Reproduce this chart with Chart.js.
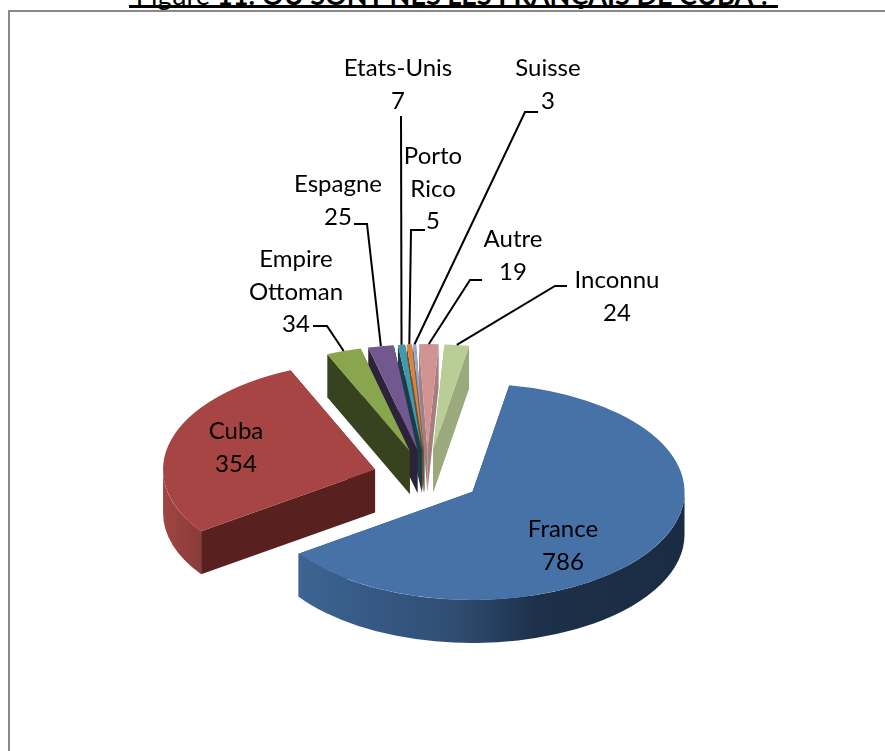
<!DOCTYPE html>
<html>
<head>
<meta charset="utf-8">
<title>Figure 11</title>
<script src="https://cdn.jsdelivr.net/npm/chart.js@4/dist/chart.umd.min.js"></script>
<style>
  html, body { margin: 0; height: 100%; background: #fff; overflow: hidden; }
  #frame { position: absolute; left: 8px; top: 10px; width: 900px; height: 800px; border: 2px solid #888; }
  #title { position: absolute; left: 129px; top: -24px; width: 649px; height: 29px; border-bottom: 3px solid #000;
           font: 27px/37px Lato, sans-serif; color: #000; white-space: nowrap; text-align: center; }
  #pie { position: absolute; left: 0; top: 0; }
</style>
</head>
<body>
<div id="frame"></div>
<div id="title">Figure <b>11: OU SONT NES LES FRANÇAIS DE CUBA ?</b></div>
<canvas id="pie" width="885" height="751"></canvas>
<script>
const categories = ['France', 'Cuba', 'Empire Ottoman', 'Espagne', 'Etats-Unis', 'Porto Rico', 'Suisse', 'Autre', 'Inconnu'];
const values = [786, 354, 34, 25, 7, 5, 3, 19, 24];

const colors = ['#4672A7', '#A64543', '#89A54E', '#71588F', '#4198AF', '#DB843D', '#93A9CF', '#D19392', '#B9CD96'];
const wallColors = ['#2A4566', '#58211F', '#37421F', '#2D2339', '#1A3D46', '#7A4A22', '#586580', '#A47E7D', '#9AAA7C'];

// label text wrapped as in the picture, first line position, elbow of the leader line
const labelLines = [['France'], ['Cuba'], ['Empire', 'Ottoman'], ['Espagne'], ['Etats-Unis'], ['Porto', 'Rico'], ['Suisse'], ['Autre'], ['Inconnu']];
const labelPos = [[563, 529], [236, 431], [296, 259], [338, 184], [398, 68], [433, 156], [548, 68], [513, 239], [617, 280]];
const leaders = [null, null, [[313, 326], [327, 326]], [[354, 224], [367, 224]], [[401, 116]], [[425, 230], [411, 230]], [[538, 112], [525, 112]], [[482, 280], [470, 280]], [[567, 286], [555, 286]]];

const squash = 0.51;
const depth = 43;
const explode = 54;
const lineHeight = 32.8;
// back slices first, so the front ones cover their walls
const paintOrder = [6, 5, 7, 4, 3, 8, 2, 1, 0];

function rimGradient(ctx, i) {
  if (i === 0) {
    const g = ctx.createLinearGradient(297, 0, 685, 0);
    g.addColorStop(0, '#3D6493');
    g.addColorStop(0.4, '#2F4E73');
    g.addColorStop(0.62, '#1D3049');
    g.addColorStop(1, '#1A2C43');
    return g;
  }
  const g = ctx.createLinearGradient(163, 0, 201, 0);
  g.addColorStop(0, '#A04543');
  g.addColorStop(1, '#8A3B39');
  return g;
}

function sliceOrigin(arc) {
  const mid = (arc.startAngle + arc.endAngle) / 2;
  return [arc.x + Math.cos(mid) * explode, arc.y + Math.sin(mid) * explode * squash];
}

// the slices at the back look a bit smaller in the picture
function perspective(arc) {
  return Math.sin((arc.startAngle + arc.endAngle) / 2) < -0.8 ? 0.975 : 1;
}

function drawWalls(ctx, arc, i) {
  const [ox, oy] = sliceOrigin(arc);
  const r = arc.outerRadius * perspective(arc);
  ctx.fillStyle = wallColors[i];
  [arc.startAngle, arc.endAngle].forEach(a => {
    const px = ox + Math.cos(a) * r;
    const py = oy + Math.sin(a) * r * squash;
    ctx.beginPath();
    ctx.moveTo(ox, oy);
    ctx.lineTo(px, py);
    ctx.lineTo(px, py + depth);
    ctx.lineTo(ox, oy + depth);
    ctx.closePath();
    ctx.fill();
  });

  // outer rim, only the part that faces us
  const from = Math.max(arc.startAngle, 0);
  const to = Math.min(arc.endAngle, Math.PI);
  if (to > from) {
    ctx.fillStyle = rimGradient(ctx, i);
    ctx.beginPath();
    ctx.ellipse(ox, oy, r, r * squash, 0, from, to);
    ctx.ellipse(ox, oy + depth, r, r * squash, 0, to, from, true);
    ctx.closePath();
    ctx.fill();
  }
}

const pie3d = {
  id: 'pie3d',
  beforeDatasetDraw(chart) {
    const ctx = chart.ctx;
    const arcs = chart.getDatasetMeta(0).data;
    paintOrder.forEach(i => {
      const arc = arcs[i];
      const [ox, oy] = sliceOrigin(arc);
      const p = perspective(arc);
      drawWalls(ctx, arc, i);
      ctx.save();
      ctx.translate(ox, oy);
      ctx.scale(p, squash * p);
      ctx.translate(-arc.x, -arc.y);
      arc.draw(ctx);
      ctx.restore();
    });
    return false;
  },
  afterDraw(chart) {
    const ctx = chart.ctx;
    const arcs = chart.getDatasetMeta(0).data;
    ctx.save();
    ctx.strokeStyle = '#000';
    ctx.lineWidth = 2;
    arcs.forEach((arc, i) => {
      if (!leaders[i]) return;
      const [ox, oy] = sliceOrigin(arc);
      const mid = (arc.startAngle + arc.endAngle) / 2;
      const r = arc.outerRadius * perspective(arc);
      ctx.beginPath();
      leaders[i].forEach((p, n) => n ? ctx.lineTo(p[0], p[1]) : ctx.moveTo(p[0], p[1]));
      ctx.lineTo(ox + Math.cos(mid) * r, oy + Math.sin(mid) * r * squash);
      ctx.stroke();
    });

    ctx.fillStyle = '#000';
    ctx.font = '24px Lato, sans-serif';
    ctx.textAlign = 'center';
    ctx.textBaseline = 'middle';
    categories.forEach((name, i) => {
      const [x, y] = labelPos[i];
      const lines = labelLines[i].concat(String(values[i]));
      lines.forEach((line, n) => ctx.fillText(line, x, y + n * lineHeight));
    });
    ctx.restore();
  }
};

new Chart(document.getElementById('pie'), {
  type: 'pie',
  data: {
    labels: categories,
    datasets: [{ data: values, backgroundColor: colors, borderWidth: 0 }]
  },
  options: {
    responsive: false,
    animation: false,
    rotation: 10,
    radius: 212,
    layout: { padding: { right: 31, top: 203 } },
    plugins: { legend: { display: false }, tooltip: { enabled: false } }
  },
  plugins: [pie3d]
});
</script>
</body>
</html>
